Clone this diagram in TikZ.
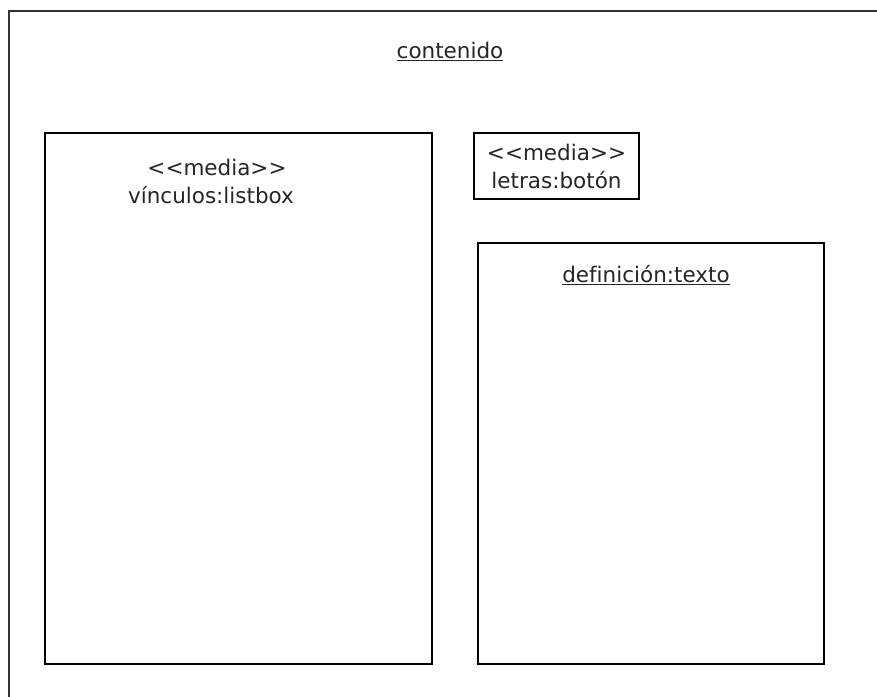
\documentclass[tikz,border=0pt]{standalone}
\usepackage{fontspec}
\setmainfont[Ligatures=NoCommon]{DejaVu Sans}
\begin{document}
\begin{tikzpicture}[x=1pt,y=-1pt,
  box/.style={draw=black,line width=1.2pt,inner sep=0pt},
  lbl/.style={font=\fontsize{21.5}{28}\selectfont,inner sep=0pt,anchor=base,text=black!85}]
\useasboundingbox (0,0) rectangle (877,696);
\clip (0,0) rectangle (877,696);
\fill[white] (0,0) rectangle (877,696);
\node[draw=black!80,line width=1.6pt,inner sep=0pt,anchor=north west,minimum width=900pt,minimum height=720pt] (frame) at (8,10) {};
\node[lbl] (t0) at (450,58) {\underline{contenido}};
\node[box,minimum width=387pt,minimum height=531pt] (lb) at (238.5,398.5) {};
\node[lbl] (t1) at (217,175) {{<}{<}media{>}{>}};
\node[lbl] (t2) at (211,203) {vínculos:listbox};
\node[box,minimum width=165pt,minimum height=66pt,align=center,font=\fontsize{21.5}{28}\selectfont,text=black!85] (bt) at (556.5,166) {{<}{<}media{>}{>}\\letras:botón};
\node[box,minimum width=346pt,minimum height=421pt] (df) at (651,453.5) {};
\node[lbl] (t3) at (646,282) {\underline{definición:texto}};
\end{tikzpicture}
\end{document}
